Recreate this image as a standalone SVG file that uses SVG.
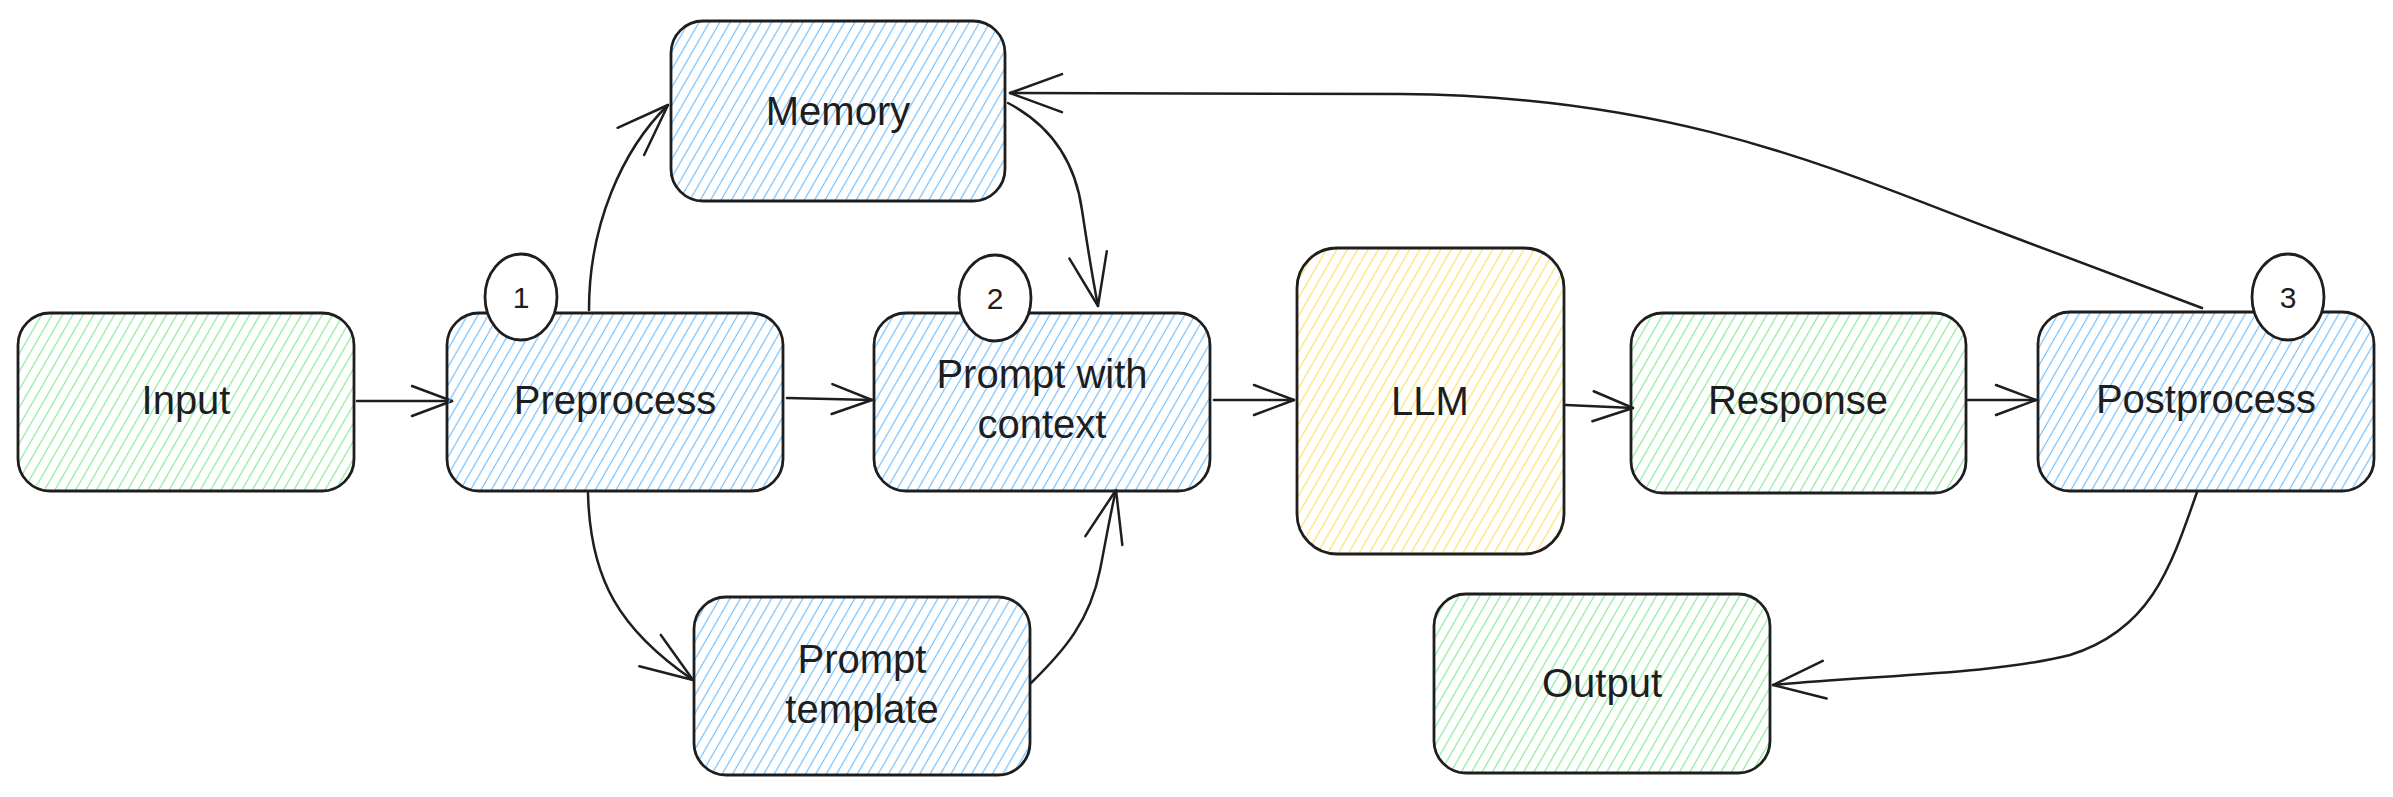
<svg xmlns="http://www.w3.org/2000/svg" width="2393" height="797" viewBox="0 0 2393 797">
<defs>
<pattern id="hGreen" patternUnits="userSpaceOnUse" width="9" height="9" patternTransform="rotate(30)"><line x1="4.5" y1="-1" x2="4.5" y2="10" stroke="#8ce99a" stroke-width="1.2"/></pattern>
<pattern id="hBlue" patternUnits="userSpaceOnUse" width="9" height="9" patternTransform="rotate(30)"><line x1="4.5" y1="-1" x2="4.5" y2="10" stroke="#74c0fc" stroke-width="1.2"/></pattern>
<pattern id="hYellow" patternUnits="userSpaceOnUse" width="9" height="9" patternTransform="rotate(30)"><line x1="4.5" y1="-1" x2="4.5" y2="10" stroke="#ffe066" stroke-width="1.2"/></pattern>
<marker id="ah" markerUnits="userSpaceOnUse" markerWidth="60" markerHeight="40" refX="0" refY="0" viewBox="-45 -20 50 40" orient="auto" overflow="visible"><path d="M-40,-15 L0,0 L-40,15" fill="none" stroke="#1e1e1e" stroke-width="2.5" stroke-linecap="round" stroke-linejoin="round"/></marker>
<marker id="ahL" markerUnits="userSpaceOnUse" markerWidth="70" markerHeight="50" refX="0" refY="0" viewBox="-60 -25 65 50" orient="auto" overflow="visible"><path d="M-52,-19 L0,0 L-52,19" fill="none" stroke="#1e1e1e" stroke-width="2.5" stroke-linecap="round" stroke-linejoin="round"/></marker>
</defs>
<style>
.box{stroke:#1e1e1e;stroke-width:2.8;}
.g{fill:url(#hGreen);}
.b{fill:url(#hBlue);}
.y{fill:url(#hYellow);}
.lbl{font-family:"Liberation Sans",Arial,sans-serif;font-size:40px;fill:#1e1e1e;text-anchor:middle;}
.num{font-family:"Liberation Sans",Arial,sans-serif;font-size:30px;fill:#1e1e1e;text-anchor:middle;}
.badge{fill:#ffffff;stroke:#1e1e1e;stroke-width:2.8;}
.c{fill:none;stroke:#1e1e1e;stroke-width:2.5;stroke-linecap:round;stroke-linejoin:round;}
.s{marker-end:url(#ah);}
.l{marker-end:url(#ahL);}
</style>
<rect width="2393" height="797" fill="#ffffff"/>

<g id="connectors">
<path class="c s" d="M357,401 L452,401"/>
<path class="c s" d="M787,398 L872,400"/>
<path class="c s" d="M1214,400 L1294,400"/>
<path class="c s" d="M1566,405 L1633,408"/>
<path class="c s" d="M1968,400 L2036,400"/>
<path class="c l" d="M589,310 C589,225 622,150 668,105"/>
<path class="c l" d="M588,493 C590,580 620,630 693,680"/>
<path class="c l" d="M1031,683 C1065,650 1090,620 1100,570 C1106,540 1110,515 1116,490"/>
<path class="c l" d="M1008,103 C1050,125 1075,160 1082,210 C1088,250 1092,275 1098,306"/>
<path class="c l" d="M2202,308 L2000,232 C1840,172 1680,96 1400,94 L1010,93"/>
<path class="c l" d="M2197,492 C2170,570 2150,630 2070,655 C1990,675 1870,675 1773,685"/>
</g>

<g id="input"><rect class="box g" x="18" y="313" width="336" height="178" rx="32"/><text class="lbl" x="186" y="414">Input</text></g>
<g id="preprocess"><rect class="box b" x="447" y="313" width="336" height="178" rx="32"/><text class="lbl" x="615" y="414">Preprocess</text></g>
<g id="memory"><rect class="box b" x="671" y="21" width="334" height="180" rx="32"/><text class="lbl" x="838" y="125">Memory</text></g>
<g id="prompt-with-context"><rect class="box b" x="874" y="313" width="336" height="178" rx="32"/><text class="lbl" x="1042" y="388">Prompt with</text><text class="lbl" x="1042" y="438">context</text></g>
<g id="prompt-template"><rect class="box b" x="694" y="597" width="336" height="178" rx="32"/><text class="lbl" x="862" y="673">Prompt</text><text class="lbl" x="862" y="723">template</text></g>
<g id="llm"><rect class="box y" x="1297" y="248" width="267" height="306" rx="40"/><text class="lbl" x="1430" y="415">LLM</text></g>
<g id="response"><rect class="box g" x="1631" y="313" width="335" height="180" rx="32"/><text class="lbl" x="1798" y="414">Response</text></g>
<g id="postprocess"><rect class="box b" x="2038" y="312" width="336" height="179" rx="32"/><text class="lbl" x="2206" y="413">Postprocess</text></g>
<g id="output"><rect class="box g" x="1434" y="594" width="336" height="179" rx="32"/><text class="lbl" x="1602" y="697">Output</text></g>

<g id="badge-1"><ellipse class="badge" cx="521" cy="297" rx="36" ry="43"/><text class="num" x="521" y="308">1</text></g>
<g id="badge-2"><ellipse class="badge" cx="995" cy="298" rx="36" ry="43"/><text class="num" x="995" y="309">2</text></g>
<g id="badge-3"><ellipse class="badge" cx="2288" cy="297" rx="36" ry="43"/><text class="num" x="2288" y="308">3</text></g>
</svg>
